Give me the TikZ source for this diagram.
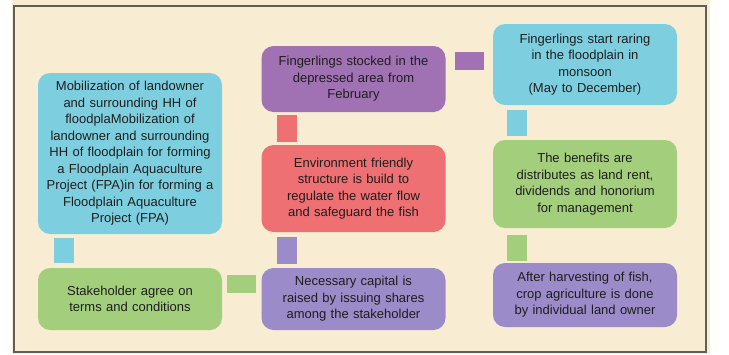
\documentclass[tikz,border=0pt]{standalone}
\usepackage{fontspec}
\setmainfont{Liberation Sans}
\definecolor{cream}{RGB}{248,237,210}
\definecolor{framec}{RGB}{95,95,90}
\definecolor{cyanc}{RGB}{125,207,224}
\definecolor{greenc}{RGB}{163,207,125}
\definecolor{purplec}{RGB}{160,114,180}
\definecolor{lavc}{RGB}{155,139,200}
\definecolor{redc}{RGB}{238,112,114}
\definecolor{txt}{RGB}{30,30,30}
\begin{document}
\begin{tikzpicture}[x=1pt,y=-1pt,
  stagebox/.style={rounded corners=12pt, align=center, inner sep=0pt,
    text width=180pt, minimum width=184pt, text=txt,
    font=\fontsize{13}{16.5}\selectfont},
  vbar/.style={line width=20pt},
  hbar/.style={line width=18pt}]
\useasboundingbox (0,0) rectangle (729,354);
\fill[cream] (12,0) rectangle (710,354);
\draw[framec, line width=1.5pt] (14,6) rectangle (706,352);

\node[stagebox, fill=cyanc, minimum height=161pt] (A) at (130,153.5)
 {Mobilization of landowner\\ and surrounding HH of\\ floodplaMobilization of\\ landowner and surrounding\\ HH of floodplain for forming\\ a Floodplain Aquaculture\\ Project (FPA)in for forming a\\ Floodplain Aquaculture\\ Project (FPA)};
\node[stagebox, fill=greenc, minimum height=62pt] (B) at (130,299)
 {Stakeholder agree on\\ terms and conditions};
\node[stagebox, fill=lavc, minimum height=62pt] (C) at (353.5,299)
 {Necessary capital is\\ raised by issuing shares\\ among the stakeholder};
\node[stagebox, fill=redc, minimum height=87pt] (D) at (353.5,188.5)
 {Environment friendly\\ structure is build to\\ regulate the water flow\\ and safeguard the fish};
\node[stagebox, fill=purplec, minimum height=66pt] (E) at (353.5,79)
 {Fingerlings stocked in the\\ depressed area from\\ February};
\node[stagebox, fill=cyanc, minimum height=81pt] (F) at (585,64.5)
 {Fingerlings start raring\\ in the floodplain in\\ monsoon\\ (May to December)};
\node[stagebox, fill=greenc, minimum height=88pt] (G) at (585,184)
 {The benefits are\\ distributes as land rent,\\ dividends and honorium\\ for management};
\node[stagebox, fill=lavc, minimum height=64pt] (H) at (585,295)
 {After harvesting of fish,\\ crop agriculture is done\\ by individual land owner};

\draw[vbar, cyanc, shorten <=4pt, shorten >=5pt]
  ([xshift=26pt]A.south west) -- ([xshift=26pt]B.north west);
\draw[hbar, greenc, shorten <=5pt, shorten >=5pt]
  ([yshift=15pt]B.east) -- ([yshift=15pt]C.west);
\draw[vbar, lavc, shorten <=4pt, shorten >=5pt]
  ([xshift=26pt]C.north west) -- ([xshift=26pt]D.south west);
\draw[vbar, redc, shorten <=3pt, shorten >=3pt]
  ([xshift=26pt]D.north west) -- ([xshift=26pt]E.south west);
\draw[hbar, purplec, shorten <=9pt, shorten >=9pt]
  ([yshift=18pt]E.east) -- ([yshift=18pt]E.east -| F.west);
\draw[vbar, cyanc, shorten <=5pt, shorten >=4pt]
  ([xshift=24pt]F.south west) -- ([xshift=24pt]G.north west);
\draw[vbar, greenc, shorten <=7pt, shorten >=2pt]
  ([xshift=24pt]G.south west) -- ([xshift=24pt]H.north west);
\end{tikzpicture}
\end{document}
